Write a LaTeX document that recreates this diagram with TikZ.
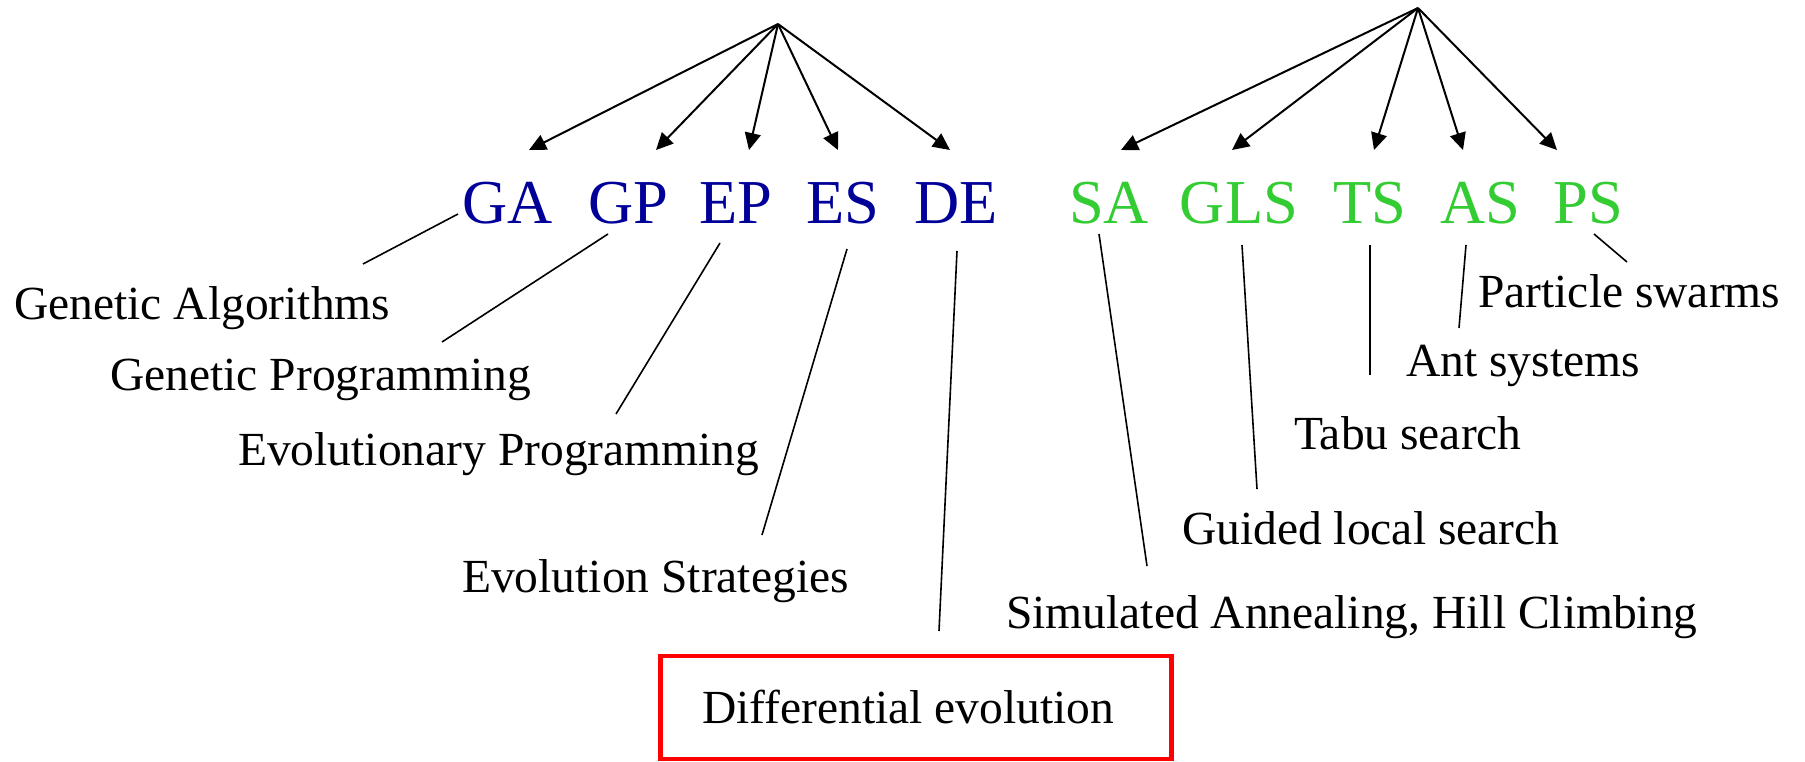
\documentclass[tikz,border=0pt]{standalone}
\usepackage{fontspec}
\setmainfont{Liberation Serif}
\usetikzlibrary{arrows.meta}
\definecolor{acblue}{RGB}{0,0,153}
\definecolor{acgreen}{RGB}{51,204,51}
\definecolor{boxred}{RGB}{255,0,0}
\begin{document}
\begin{tikzpicture}[x=1pt,y=-1pt,
  arr/.style={line width=2pt,-{Triangle[length=17pt,width=16pt]}},
  lead/.style={line width=1.6pt},
  acr/.style={font=\fontsize{62.5}{70}\selectfont,anchor=base,inner sep=0pt},
  blueacr/.style={acr,text=acblue},
  greenacr/.style={acr,text=acgreen},
  lab/.style={font=\fontsize{47.5}{56}\selectfont,anchor=base west,inner sep=0pt},
  debox/.style={draw=boxred,line width=4.5pt,minimum width=511pt,minimum height=103pt,inner sep=0pt,font=\fontsize{47.5}{56}\selectfont}]
\useasboundingbox (0,0) rectangle (1805,762);
% apexes
\coordinate (L) at (778,24);
\coordinate (R) at (1418,8);
% arrow tips
\coordinate (tGA) at (529,150);
\coordinate (tGP) at (656,150);
\coordinate (tEP) at (749,150);
\coordinate (tES) at (838,150);
\coordinate (tDE) at (950,150);
\coordinate (tSA) at (1121,150);
\coordinate (tGLS) at (1232,150);
\coordinate (tTS) at (1374,150);
\coordinate (tAS) at (1463,150);
\coordinate (tPS) at (1557,150);
% acronyms
\node[blueacr] (GA) at (508,224) {GA};
\node[blueacr] (GP) at (628,224) {GP};
\node[blueacr] (EP) at (736,224) {EP};
\node[blueacr] (ES) at (843,224) {ES};
\node[blueacr] (DE) at (956,224) {DE};
\node[greenacr] (SA) at (1109,224) {SA};
\node[greenacr] (GLS) at (1239,224) {GLS};
\node[greenacr] (TS) at (1370,224) {TS};
\node[greenacr] (AS) at (1480,224) {AS};
\node[greenacr] (PS) at (1588,224) {PS};
% arrows
\foreach \t in {tGA,tGP,tEP,tES,tDE} \draw[arr] (L) -- (\t);
\foreach \t in {tSA,tGLS,tTS,tAS,tPS} \draw[arr] (R) -- (\t);
% labels
\node[lab] (lGA) at (14,319) {Genetic Algorithms};
\node[lab] (lGP) at (110,390) {Genetic Programming};
\node[lab] (lEP) at (238,465) {Evolutionary Programming};
\node[lab] (lES) at (462,592) {Evolution Strategies};
\node[debox] (lDE) at (916,707.5) {\hspace*{-16pt}Differential evolution};
\node[lab] (lSA) at (1006,628) {Simulated Annealing, Hill Climbing};
\node[lab] (lGLS) at (1182,544) {Guided local search};
\node[lab] (lTS) at (1294,449) {Tabu search};
\node[lab] (lAS) at (1406,376) {Ant systems};
\node[lab] (lPS) at (1478,307) {Particle swarms};
% leader lines
\coordinate (a1) at (458,214); \coordinate (b1) at (363,264);
\coordinate (a2) at (608,234); \coordinate (b2) at (442,342);
\coordinate (a3) at (720,243); \coordinate (b3) at (616,414);
\coordinate (a4) at (847,249); \coordinate (b4) at (762,535);
\coordinate (a5) at (957,251); \coordinate (b5) at (939,631);
\coordinate (a6) at (1099,234); \coordinate (b6) at (1147,566);
\coordinate (a7) at (1242,245); \coordinate (b7) at (1257,489);
\coordinate (a8) at (1370,245); \coordinate (b8) at (1370,375);
\coordinate (a9) at (1466,245); \coordinate (b9) at (1459,328);
\coordinate (a10) at (1594,234); \coordinate (b10) at (1627,262);
\foreach \i in {1,...,10} \draw[lead] (a\i) -- (b\i);
\end{tikzpicture}
\end{document}
